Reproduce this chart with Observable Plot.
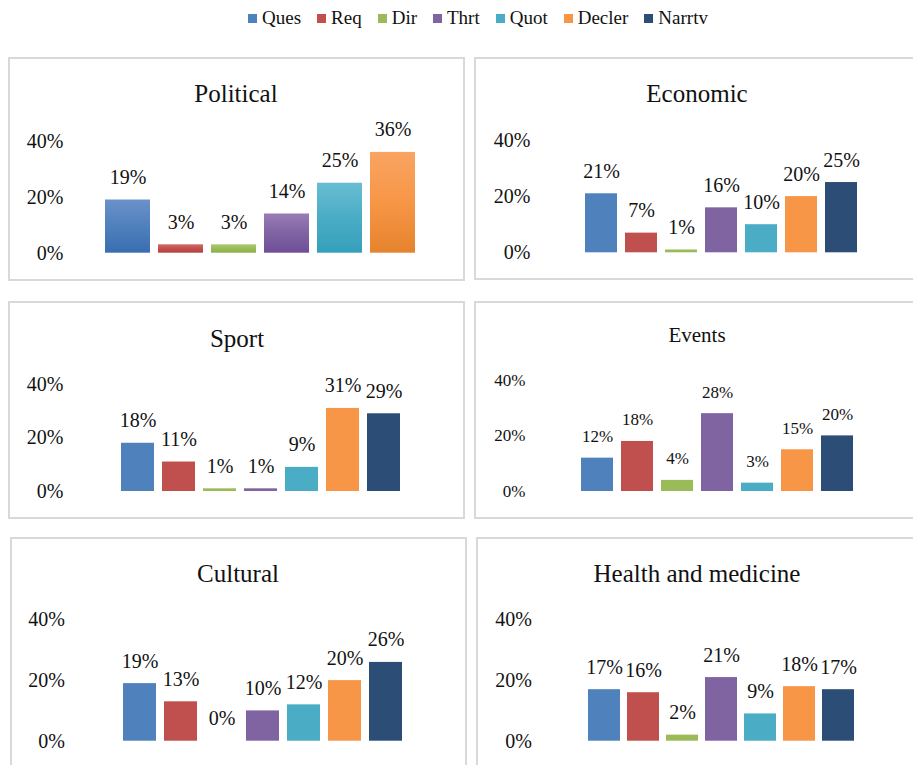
<!DOCTYPE html>
<html><head><meta charset="utf-8">
<script src="https://cdn.jsdelivr.net/npm/d3@7"></script>
<script src="https://cdn.jsdelivr.net/npm/@observablehq/plot@0.6"></script>
<style>
body{margin:0;background:#fff;}
#root{position:relative;width:913px;height:765px;overflow:hidden;font-family:"Liberation Serif","Times New Roman",serif;color:#111;background:#fff;}
#root svg, #root svg text, #root svg g{font-family:"Liberation Serif","Times New Roman",serif !important;}
.box{position:absolute;border:2px solid #d9d9d9;box-sizing:border-box;}
.pl{position:absolute;}
#legend{position:absolute;left:248px;top:6px;display:flex;gap:16px;font-size:19px;align-items:center;line-height:24px;}
#legend .it{display:flex;align-items:center;}
#legend .sw{display:inline-block;width:9px;height:9px;margin-right:5px;}
</style></head>
<body><div id="root"><div id="legend"></div></div>
<script>
// ---- data ----
const categories = ["Ques","Req","Dir","Thrt","Quot","Decler","Narrtv"];
const colors = ["#4F81BD","#C0504D","#9BBB59","#8064A2","#4BACC6","#F79646","#2C4D75"];
const political = [19,3,3,14,25,36,null];
const economic  = [21,7,1,16,10,20,25];
const sport     = [18,11,1,1,9,31,29];
const events    = [12,18,4,28,3,15,20];
const cultural  = [19,13,0,10,12,20,26];
const health    = [17,16,2,21,9,18,17];
const yTicks = [0,20,40];
const titles = ["Political","Economic","Sport","Events","Cultural","Health and medicine"];
// gradient (top, middle = base colour, bottom) used by the Political panel
const gradTop    = ["#6C91C9","#D16B68","#ABC870","#977CB6","#68BDD2","#F9A462","#4A6D98"];
const gradBottom = ["#3A6DB0","#BA3F3C","#8CAF47","#6F4D98","#34A0BB","#E5832E","#1F3D63"];

// ---- layout ----
const layouts = [
 {left:8,  top:57,  w:457, h:224, firstLeft:104, lastRight:415, pad:0.16,  base:252.7, perPct:2.80, labelRight:63,    fs:20, tfs:25, tx:236, ty:102, grad:true},
 {left:474,top:57,  w:449, h:223, firstLeft:584, lastRight:857, pad:0.20,  base:252.3, perPct:2.81, labelRight:530,   fs:20, tfs:25, tx:697, ty:102},
 {left:8,  top:301, w:457, h:218, firstLeft:119, lastRight:401, pad:0.205, base:491,   perPct:2.68, labelRight:63,    fs:20, tfs:25, tx:237, ty:346.5},
 {left:474,top:301, w:449, h:218, firstLeft:578, lastRight:856, pad:0.19,  base:491,   perPct:2.78, labelRight:525,   fs:17, tfs:21, tx:697, ty:342},
 {left:10, top:537, w:457, h:240, firstLeft:121, lastRight:403, pad:0.205, base:740.7, perPct:3.03, labelRight:64.5,  fs:20, tfs:25, tx:238, ty:582},
 {left:476,top:537, w:449, h:240, firstLeft:586, lastRight:855, pad:0.19,  base:740.7, perPct:3.03, labelRight:531.5, fs:20, tfs:25, tx:697, ty:582}
];
const series = [political, economic, sport, events, cultural, health];

const root = document.getElementById("root");

// legend
const leg = document.getElementById("legend");
categories.forEach((c,i)=>{
  const it = document.createElement("span"); it.className="it";
  const sw = document.createElement("span"); sw.className="sw"; sw.style.background=colors[i];
  it.appendChild(sw); it.appendChild(document.createTextNode(c)); leg.appendChild(it);
});

const FONT = '"Liberation Serif","Times New Roman",serif';

series.forEach((vals, pi)=>{
  const L = layouts[pi];
  const data = categories.map((c,i)=>({cat:c, v:vals[i], i})).filter(d=>d.v!=null);
  const cats = data.map(d=>d.cat);
  const step = (L.lastRight - L.firstLeft)/(cats.length - L.pad);
  const r0 = L.firstLeft - L.pad*step, r1 = L.lastRight + L.pad*step;
  const y40 = L.base - 40*L.perPct;

  const box = document.createElement("div"); box.className="box";
  Object.assign(box.style,{left:L.left+"px",top:L.top+"px",width:L.w+"px",height:L.h+"px"});
  root.appendChild(box);

  const chart = Plot.plot({
    width:L.w, height:L.h,
    marginLeft: r0 - L.left, marginRight: L.left + L.w - r1,
    marginTop: y40 - L.top, marginBottom: L.top + L.h - L.base,
    x:{domain:cats, padding:L.pad, axis:null},
    y:{domain:[0,40], axis:null},
    color:{type:"identity"},
    style:{fontFamily:FONT, fontSize:L.fs+"px", color:"#111", background:"transparent", overflow:"visible"},
    marks:[
      Plot.axisY({ticks:yTicks, tickSize:0, tickPadding:r0 - L.labelRight, tickFormat:d=>d+"%", label:null, fontSize:L.fs, fontFamily:FONT, fontVariant:"normal"}),
      Plot.barY(data,{x:"cat", y:"v", fill:d=> L.grad ? `url(#g${pi}-${d.i})` : colors[d.i]}),
      Plot.text(data,{x:"cat", y:"v", text:d=>d.v+"%", lineAnchor:"bottom", dy:-16, fontSize:L.fs, fontFamily:FONT, fill:"#111"})
    ]
  });
  chart.classList.add("pl");
  Object.assign(chart.style,{left:L.left+"px", top:L.top+"px"});
  const s = d3.select(chart);
  if (L.grad) {
    const defs = s.insert("defs", ":first-child");
    categories.forEach((c,i)=>{
      const g = defs.append("linearGradient").attr("id",`g${pi}-${i}`).attr("x1",0).attr("y1",0).attr("x2",0).attr("y2",1);
      g.append("stop").attr("offset","0%").attr("stop-color",gradTop[i]);
      g.append("stop").attr("offset","50%").attr("stop-color",colors[i]);
      g.append("stop").attr("offset","100%").attr("stop-color",gradBottom[i]);
    });
  }
  s.append("text").attr("x",L.tx - L.left).attr("y",L.ty - L.top).attr("text-anchor","middle")
    .attr("font-size",L.tfs).attr("fill","#111").text(titles[pi]);
  root.appendChild(chart);
});
</script></body></html>
